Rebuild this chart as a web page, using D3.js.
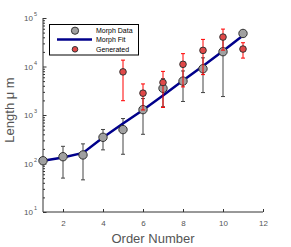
<!DOCTYPE html>
<html><head><meta charset="utf-8">
<script src="https://cdn.jsdelivr.net/npm/d3@7"></script>
<style>body{margin:0;background:#fff}svg{display:block}</style>
</head><body>
<script>
const orders = [1,2,3,4,5,6,7,8,9,10,11];
const morphMean = [114,138,150,347,500,1290,3550,5000,9000,20200,48000];
const morphStd  = [0,88,104,156,345,890,2070,3100,6100,17800,0];
const fitValues = [114,133,165,344,668,1270,2520,5140,10200,20900,43600];
const genOrders = [5,6,7,8,9,10,11];
const genMean = [7750,2820,4680,11100,21500,40400,22900];
const genStd  = [5780,1550,3250,7300,14700,18650,8000];
const xTicks = [2,4,6,8,10,12];
const yExps = [1,2,3,4,5];
const legendLabels = ["Morph Data","Morph Fit","Generated"];

const W=291,H=247;
const svg=d3.select("body").append("svg").attr("width",W).attr("height",H);
const x=d3.scaleLinear().domain([1,12]).range([43,263]);
const y=d3.scaleLog().domain([10,1e5]).range([212,18]);
const font="Liberation Sans, Arial, sans-serif";

// axes
const xAx=svg.append("g").attr("transform","translate(0,212)")
  .call(d3.axisBottom(x).tickValues(xTicks).tickSize(-3).tickPadding(8).tickFormat(d3.format("d")));
xAx.select(".domain").attr("d","M43,0H263").attr("stroke","#333");
xAx.selectAll(".tick line").attr("stroke","#333");
xAx.selectAll("text").attr("font-family",font).attr("font-size",8).attr("fill","#555");

const minor=[];
for(let e=1;e<5;e++) for(let k=2;k<=9;k++) minor.push(k*Math.pow(10,e));
const yAx=svg.append("g").attr("transform","translate(43,0)")
  .call(d3.axisLeft(y).tickValues(minor).tickSize(-2).tickFormat(""));
yAx.select(".domain").attr("d","M0,18V212").attr("stroke","#333");
yAx.selectAll(".tick line").attr("stroke","#333");
const yMaj=svg.append("g").attr("transform","translate(43,0)")
  .call(d3.axisLeft(y).tickValues(yExps.map(e=>Math.pow(10,e))).tickSize(-3.5).tickFormat(""));
yMaj.select(".domain").remove();
yMaj.selectAll(".tick line").attr("stroke","#333");
yExps.forEach(e=>{
  const t=svg.append("text").attr("x",33).attr("y",y(Math.pow(10,e))+3)
    .attr("text-anchor","end").attr("font-family",font).attr("font-size",8).attr("fill","#555").text("10");
  svg.append("text").attr("x",34).attr("y",y(Math.pow(10,e))-2)
    .attr("font-family",font).attr("font-size",5.5).attr("fill","#555").text(e);
});

// axis labels
svg.append("text").attr("x",153).attr("y",243).attr("text-anchor","middle")
  .attr("font-family",font).attr("font-size",13).attr("fill","#555").text("Order Number");
svg.append("text").attr("transform","translate(14,110) rotate(-90)").attr("text-anchor","middle")
  .attr("font-family",font).attr("font-size",13).attr("fill","#555").text("Length \u03bc m");

// error bars helper
function errbars(xs, means, stds, color){
  const g=svg.append("g").attr("stroke",color).attr("stroke-width",1);
  xs.forEach((o,i)=>{
    if(!stds[i]) return;
    const top=y(means[i]+stds[i]), bot=y(Math.max(means[i]-stds[i],11));
    const cx=x(o);
    g.append("line").attr("x1",cx).attr("x2",cx).attr("y1",top).attr("y2",bot);
    g.append("line").attr("x1",cx-2).attr("x2",cx+2).attr("y1",top).attr("y2",top);
    g.append("line").attr("x1",cx-2).attr("x2",cx+2).attr("y1",bot).attr("y2",bot);
  });
}
errbars(orders,morphMean,morphStd,"#444");

// fit line
svg.append("path").datum(orders.map((o,i)=>[o,fitValues[i]]))
  .attr("d",d3.line().x(d=>x(d[0])).y(d=>y(d[1])))
  .attr("fill","none").attr("stroke","#00008b").attr("stroke-width",2.5);

svg.append("g").selectAll("circle").data(orders).join("circle")
  .attr("cx",d=>x(d)).attr("cy",(d,i)=>y(morphMean[i])).attr("r",4.2)
  .attr("fill","#a0a0a0").attr("stroke","#333").attr("stroke-width",1);

errbars(genOrders,genMean,genStd,"#ff0000");
svg.append("g").selectAll("circle").data(genOrders).join("circle")
  .attr("cx",d=>x(d)).attr("cy",(d,i)=>y(genMean[i])).attr("r",3.3)
  .attr("fill","#e04848").attr("stroke","#333").attr("stroke-width",1);

// legend
const lg=svg.append("g");
lg.append("rect").attr("x",49.5).attr("y",24.5).attr("width",89).attr("height",30.5)
  .attr("fill","#fff").attr("stroke","#000").attr("stroke-width",1);
lg.append("circle").attr("cx",75).attr("cy",30.7).attr("r",3.6).attr("fill","#a0a0a0").attr("stroke","#333");
lg.append("line").attr("x1",57).attr("x2",92).attr("y1",39.5).attr("y2",39.5).attr("stroke","#00008b").attr("stroke-width",2.5);
lg.append("circle").attr("cx",75).attr("cy",49.3).attr("r",2.8).attr("fill","#e04848").attr("stroke","#333");
[30.7,39.5,49.3].forEach((yy,i)=>{
  lg.append("text").attr("x",96).attr("y",yy+2.5).attr("font-family",font).attr("font-size",7)
    .attr("fill","#000").text(legendLabels[i]);
});
</script>
</body></html>
